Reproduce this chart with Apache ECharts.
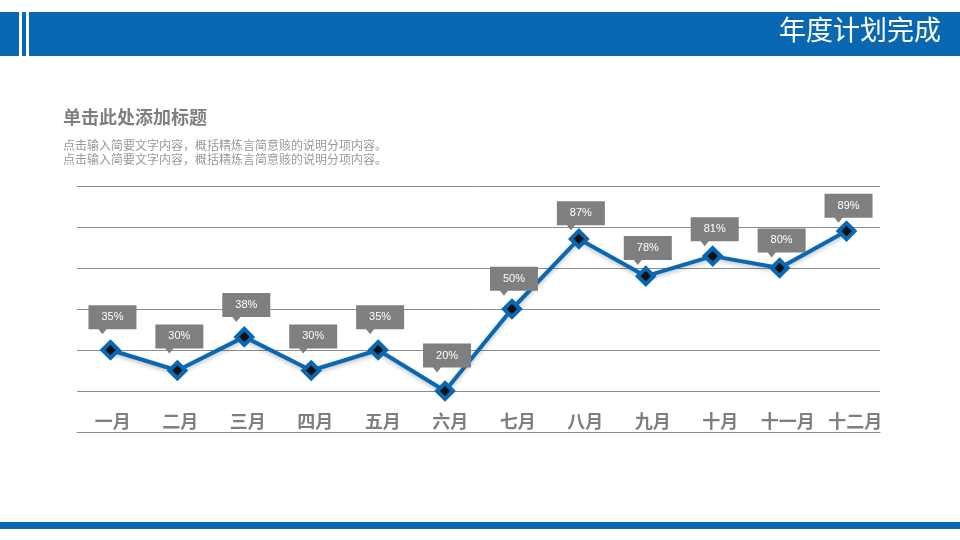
<!DOCTYPE html>
<html>
<head>
<meta charset="utf-8">
<title>年度计划完成</title>
<script src="https://cdn.jsdelivr.net/npm/echarts@6/dist/echarts.min.js"></script>
<style>
    html, body { margin: 0; padding: 0; background: #fff; }
    #chart { width: 960px; height: 540px; }
</style>
</head>
<body>
<div id="chart"></div>
<script>
(function (echarts) {
    'use strict';

    // chart data
    const months = ['一月', '二月', '三月', '四月', '五月', '六月', '七月', '八月', '九月', '十月', '十一月', '十二月'];
    // point heights as drawn (grid step = 10)
    const heights = [20, 15, 23.2, 15, 20, 10, 30, 47.1, 38, 42.9, 40, 49];
    // callout texts
    const labels = ['35%', '30%', '38%', '30%', '35%', '20%', '50%', '87%', '78%', '81%', '80%', '89%'];
    const yTicks = [0, 10, 20, 30, 40, 50, 60];

    const blue = '#0a68b2';
    const gray = '#7f7f7f';
    const font = '"Noto Sans CJK SC", "Microsoft YaHei", sans-serif';

    const chart = echarts.init(document.getElementById('chart'));

    // callout box + pointer, relative to the pointer tip
    const calloutShape = [[-14, -29], [34, -29], [34, -5], [4, -5], [0, 0], [-4, -5], [-14, -5]];

    const options = {
        backgroundColor: '#fff',
        animation: false,
        textStyle: { fontFamily: font },
        graphic: [
            // header bar
            { type: 'rect', shape: { x: 0, y: 12, width: 19, height: 44 }, style: { fill: blue } },
            { type: 'rect', shape: { x: 22, y: 12, width: 4, height: 44 }, style: { fill: blue } },
            { type: 'rect', shape: { x: 29, y: 12, width: 931, height: 44 }, style: { fill: blue } },
            {
                type: 'text', right: 19, top: 16,
                style: { text: '年度计划完成', fill: '#fff', font: '27px ' + font }
            },
            // footer band
            { type: 'rect', shape: { x: 0, y: 522, width: 960, height: 7 }, style: { fill: blue } },
            // heading
            {
                type: 'text', left: 63, top: 108,
                style: { text: '单击此处添加标题', fill: gray, font: 'bold 18px ' + font }
            },
            {
                type: 'text', left: 63, top: 138,
                style: {
                    text: '点击输入简要文字内容，概括精炼言简意赅的说明分项内容。\n点击输入简要文字内容，概括精炼言简意赅的说明分项内容。',
                    fill: '#999', font: '12px ' + font, lineHeight: 14
                }
            }
        ],
        grid: [
            { left: 77, right: 80, top: 186, bottom: 108 },
            // month names run on a slightly wider spacing than the points
            { left: 79, right: 71, top: 186, bottom: 108 }
        ],
        xAxis: [
            {
                type: 'category',
                data: months,
                boundaryGap: true,
                axisLine: { show: true, lineStyle: { color: '#8c8c8c', width: 1 } },
                axisTick: { show: false },
                axisLabel: { show: false },
                z: 3
            },
            {
                type: 'category',
                gridIndex: 1,
                data: months,
                boundaryGap: true,
                axisLine: { show: false },
                axisTick: { show: false },
                axisLabel: {
                    inside: true,
                    margin: 2,
                    color: gray,
                    fontWeight: 'bold',
                    fontSize: 18,
                    fontFamily: font,
                    interval: 0
                }
            }
        ],
        yAxis: [
            {
                type: 'value',
                min: yTicks[0],
                max: yTicks[yTicks.length - 1],
                interval: 10,
                axisLine: { show: false },
                axisTick: { show: false },
                axisLabel: { show: false },
                splitLine: { show: true, lineStyle: { color: '#8c8c8c', width: 1 } }
            },
            {
                type: 'value',
                gridIndex: 1,
                min: yTicks[0],
                max: yTicks[yTicks.length - 1],
                show: false,
                splitLine: { show: false }
            }
        ],
        series: [
            {
                type: 'line',
                data: heights,
                symbol: 'diamond',
                symbolSize: 16,
                lineStyle: {
                    color: blue, width: 4,
                    shadowColor: 'rgba(0,0,0,0.25)', shadowBlur: 4, shadowOffsetY: 2
                },
                itemStyle: { color: '#111', borderColor: blue, borderWidth: 4 },
                z: 4
            },
            {
                type: 'custom',
                data: heights.map((h, i) => [i, h]),
                renderItem: function (params, api) {
                    const pt = api.coord([api.value(0), api.value(1)]);
                    // callouts sit a bit closer to the higher points
                    const gap = 21 - 0.26 * api.value(1);
                    return {
                        type: 'group',
                        x: pt[0] - 8,
                        y: pt[1] - gap,
                        children: [
                            {
                                type: 'polygon',
                                shape: { points: calloutShape },
                                style: { fill: gray }
                            },
                            {
                                type: 'text',
                                x: 10,
                                y: -17,
                                style: {
                                    text: labels[params.dataIndex],
                                    fill: '#fff',
                                    font: '11px "Liberation Sans", Arial, sans-serif',
                                    align: 'center',
                                    verticalAlign: 'middle'
                                }
                            }
                        ]
                    };
                },
                z: 5
            }
        ]
    };

    chart.setOption(options);
})(echarts);
</script>
</body>
</html>
